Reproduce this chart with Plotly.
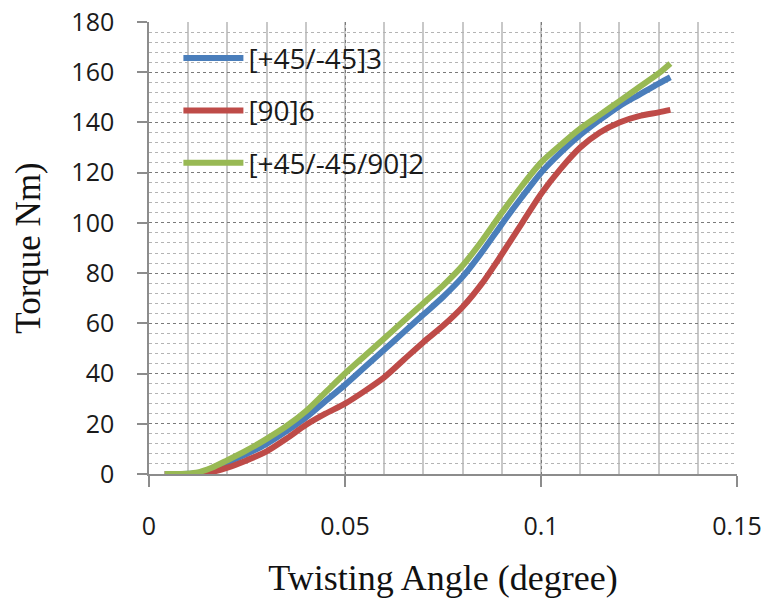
import plotly.graph_objects as go

# Twisting angle (degree) sampled along each torque curve
angle = [0.004, 0.008, 0.012, 0.016, 0.02, 0.025, 0.03, 0.035, 0.04, 0.045,
         0.05, 0.055, 0.06, 0.065, 0.07, 0.075, 0.08, 0.085, 0.09, 0.095,
         0.1, 0.105, 0.11, 0.115, 0.12, 0.125, 0.13, 0.133]

# Torque (Nm) for each laminate lay-up
torque_45_45_3 = [0, 0, 0.3, 1.8, 4.5, 8, 12, 17, 22.5, 29,
                  35.5, 42.5, 49.5, 56.5, 63.5, 70.5, 78.5, 88.5, 99.5, 110,
                  120, 128, 135, 141, 146.5, 151, 155.5, 158]
torque_90_6 = [0, 0, 0, 0.8, 2.5, 5.5, 9, 14, 19.5, 24,
               28, 33, 38.5, 45.5, 52.5, 59, 66.5, 76, 87.5, 99.5,
               111.5, 121.5, 130, 136, 140, 142.5, 144, 145]
torque_45_45_90_2 = [0, 0, 0.5, 2.5, 5.5, 9.5, 14, 19, 25, 32.5,
                     40, 47, 54, 61, 68, 75, 83, 93, 104, 114.5,
                     124, 131, 137.5, 143, 148.5, 154, 159.5, 163.5]

series_names = ["[+45/-45]3", "[90]6", "[+45/-45/90]2"]
series_values = [torque_45_45_3, torque_90_6, torque_45_45_90_2]
series_colors = ["#4a7ebb", "#be4b48", "#98b954"]

x_ticks = [0, 0.05, 0.1, 0.15]
x_tick_text = ["0", "0.05", "0.1", "0.15"]
y_ticks = list(range(0, 181, 20))

fig = go.Figure()
for i, (name, vals, col) in enumerate(zip(series_names, series_values, series_colors)):
    fig.add_trace(go.Scatter(
        x=angle, y=vals, name=name, mode="lines",
        line=dict(color=col, width=6, shape="spline", smoothing=0.8),
        legendgroup=f"g{i}",
    ))

tick_font = dict(family="Open Sans, sans-serif", size=25, color="#1a1a1a")

fig.update_layout(
    width=765, height=604,
    margin=dict(l=149, r=28, t=22, b=130, autoexpand=False),
    paper_bgcolor="white", plot_bgcolor="white",
    showlegend=True,
    legend=dict(
        x=0.05, y=0.975, xanchor="left", yanchor="top",
        bgcolor="rgba(0,0,0,0)", borderwidth=0,
        font=dict(family="Open Sans, sans-serif", size=28, color="#1a1a1a"),
        traceorder="grouped", tracegroupgap=13,
        itemwidth=60,
    ),
    xaxis=dict(
        range=[0, 0.15], tickvals=x_ticks, ticktext=x_tick_text,
        automargin=False,
        showline=True, linecolor="#8c8c8c", linewidth=1.5,
        ticks="outside", ticklen=11, tickcolor="#8c8c8c", tickwidth=1.5,
        ticklabelstandoff=18,
        tickfont=tick_font,
        showgrid=True, gridcolor="#7a7a7a", griddash="dot", gridwidth=1.2,
        minor=dict(dtick=0.01, tick0=0, showgrid=True, gridcolor="#c8c8c8",
                   griddash="solid", gridwidth=1.5, ticks=""),
        zeroline=False,
        title=dict(text="Twisting Angle (degree)", standoff=24,
                   font=dict(family="Liberation Serif, serif", size=36, color="#111111")),
    ),
    yaxis=dict(
        range=[0, 180], tickvals=y_ticks,
        automargin=False,
        showline=True, linecolor="#8c8c8c", linewidth=1.5,
        ticks="outside", ticklen=10, tickcolor="#8c8c8c", tickwidth=1.5,
        ticklabelstandoff=18,
        tickfont=tick_font,
        showgrid=True, gridcolor="#7a7a7a", griddash="dot", gridwidth=1.2,
        minor=dict(dtick=4, tick0=0, showgrid=True, gridcolor="#b4b4b4",
                   griddash="dot", gridwidth=1, ticks=""),
        zeroline=False,
        title=dict(text="Torque Nm)", standoff=20,
                   font=dict(family="Liberation Serif, serif", size=35, color="#111111")),
    ),
)

fig.write_html("out.html")
